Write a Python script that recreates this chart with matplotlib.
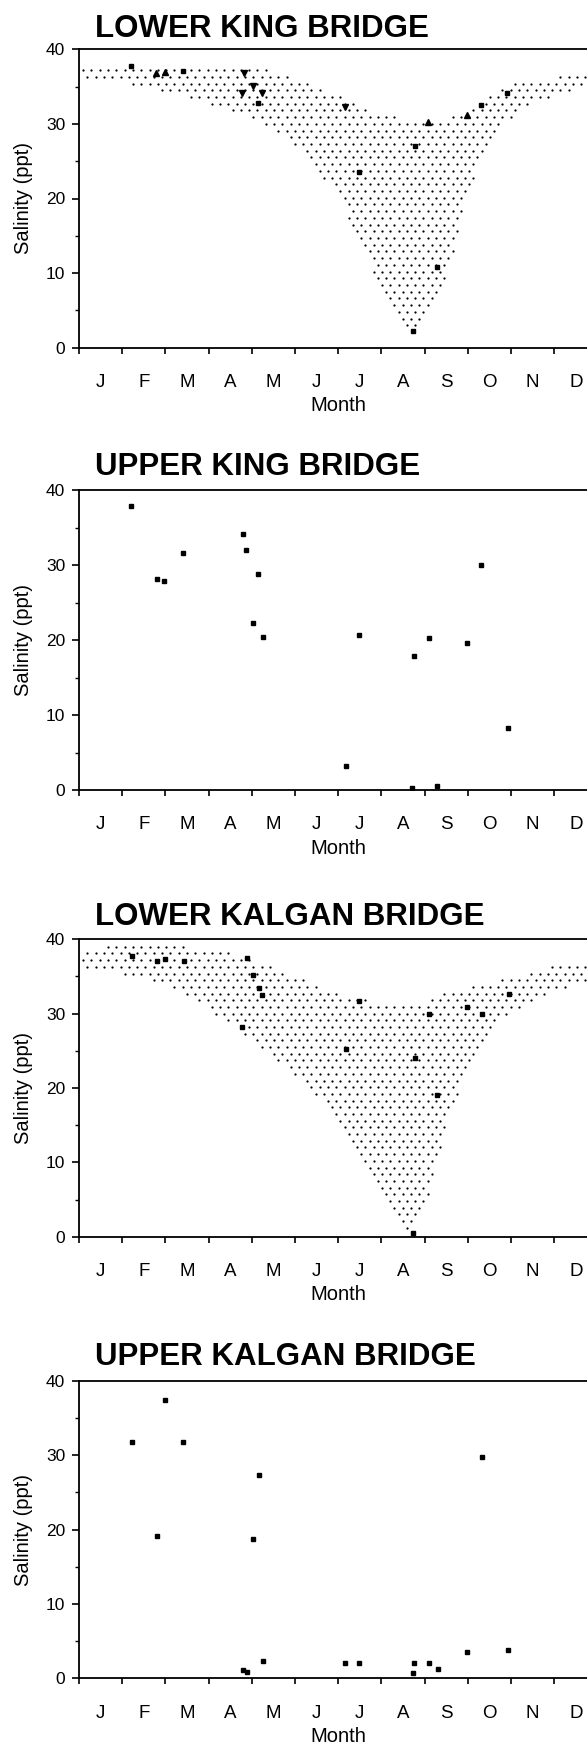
import numpy as np
import matplotlib.pyplot as plt
from matplotlib.path import Path
from matplotlib.ticker import FixedLocator, MultipleLocator, NullFormatter

plt.rcParams['font.family'] = ['Liberation Sans', 'DejaVu Sans']

W, H = 587, 1748
month_labels = ["J", "F", "M", "A", "M", "J", "J", "A", "S", "O", "N", "D"]

# Lower King Bridge: range band and observations (month, salinity ppt)
lk_band_m = [0, 0.5, 1.0, 1.5, 2.0, 2.5, 3.0, 3.5, 4.0, 4.5, 5.0, 5.5, 6.0, 6.5,
             7.0, 7.5, 7.75, 8.0, 8.5, 9.0, 9.5, 10.0, 10.5, 11.0, 11.5, 12]
lk_band_hi = [37.7, 37.8, 37.8, 37.7, 37.7, 37.6, 37.6, 37.5, 37.4, 37.1, 36.2, 35.1, 33.9, 32.5,
              31.4, 30.6, 30.5, 30.5, 30.8, 31.9, 33.6, 35.5, 36.1, 36.2, 36.6, 37.0]
lk_band_lo = [35.7, 35.7, 35.6, 34.8, 34.3, 33.6, 32.8, 31.9, 30.8, 29.2, 27.0, 23.8, 20.5, 14.0,
              8.0, 3.0, 2.0, 3.2, 9.2, 20.8, 27.5, 30.9, 32.8, 33.9, 34.6, 35.2]
lk_sq_m = [1.20, 2.41, 4.15, 6.49, 7.78, 8.29, 7.74, 9.30, 9.91]
lk_sq_s = [37.7, 37.1, 32.8, 23.5, 27.0, 10.8, 2.3, 32.5, 34.2]
lk_up_m = [1.78, 1.99, 8.07, 8.97]
lk_up_s = [36.8, 36.9, 30.2, 31.2]
lk_dn_m = [3.83, 4.03, 3.78, 4.23, 6.16]
lk_dn_s = [36.8, 35.1, 34.2, 34.2, 32.3]

# Upper King Bridge
uk_m = [1.21, 1.80, 1.97, 2.41, 3.79, 3.86, 4.14, 4.03, 4.25, 6.17, 6.47,
        7.76, 7.71, 8.10, 8.29, 8.97, 9.30, 9.92]
uk_s = [37.9, 28.1, 27.9, 31.6, 34.1, 32.0, 28.8, 22.3, 20.4, 3.2, 20.7,
        17.9, 0.3, 20.3, 0.6, 19.6, 30.0, 8.3]

# Lower Kalgan Bridge
lkal_band_m = [0, 0.5, 1.0, 1.5, 2.0, 2.5, 3.0, 3.5, 4.0, 4.5, 5.0, 5.5, 6.0, 6.5,
               7.0, 7.5, 7.7, 8.0, 8.5, 9.0, 9.5, 10.0, 10.5, 11.0, 11.5, 12]
lkal_band_hi = [38.3, 39.0, 39.1, 39.1, 39.1, 39.0, 38.8, 38.3, 37.2, 36.3, 35.1, 33.9, 32.9, 32.2,
                31.2, 31.0, 31.2, 31.8, 32.8, 33.4, 34.2, 35.0, 35.6, 36.5, 36.8, 37.0]
lkal_band_lo = [36.3, 35.9, 35.3, 34.6, 33.8, 32.4, 30.6, 28.6, 26.3, 24.2, 21.7, 19.0, 15.7, 11.0,
                6.6, 1.5, 0.4, 3.5, 15.3, 23.3, 28.1, 30.0, 31.5, 33.0, 33.9, 34.3]
lkal_m = [1.22, 1.81, 1.98, 2.42, 3.88, 4.03, 4.17, 4.24, 3.78, 6.48, 6.17,
          8.10, 7.78, 8.29, 8.99, 9.32, 9.95, 7.72]
lkal_s = [37.8, 37.1, 37.3, 37.1, 37.5, 35.2, 33.4, 32.5, 28.2, 31.7, 25.3,
          30.0, 24.0, 19.0, 30.9, 30.0, 32.6, 0.5]

# Upper Kalgan Bridge
ukal_m = [1.22, 1.80, 1.98, 2.41, 3.80, 3.88, 4.03, 4.16, 4.25, 6.16, 6.48,
          7.74, 7.76, 8.10, 8.30, 8.99, 9.32, 9.92]
ukal_s = [31.8, 19.2, 37.4, 31.8, 1.1, 0.9, 18.8, 27.3, 2.3, 2.0, 2.0,
          0.7, 2.1, 2.1, 1.2, 3.5, 29.8, 3.8]

# panel boxes in pixels: (axes top, axes bottom, title baseline)
boxes = [(49.3, 347.7, 36.7), (490, 790, 475), (939.3, 1236.7, 925), (1381, 1678.3, 1365)]
titles = ["LOWER KING BRIDGE", "UPPER KING BRIDGE", "LOWER KALGAN BRIDGE", "UPPER KALGAN BRIDGE"]
ax_left, ax_width = 79, 12 * 43.2


def stipple(ax, m, lo, hi):
    # staggered dot screen clipped to the band between lo and hi
    dx, dy = 8.3 / 43.2, 0.9
    verts = list(zip(m, hi)) + list(zip(m[::-1], lo[::-1]))
    band = Path(verts)
    xs, ys = [], []
    for i, y in enumerate(np.arange(0.3, 40, dy)):
        off = dx / 2 if i % 2 else 0
        for x in np.arange(off, 12, dx):
            xs.append(x)
            ys.append(y)
    pts = np.column_stack([xs, ys])
    keep = band.contains_points(pts)
    ax.scatter(pts[keep, 0], pts[keep, 1], s=2.6, color='black', linewidths=0)


fig = plt.figure(figsize=(W / 100, H / 100), dpi=100)
axes = []
for (top, bot, tb), title in zip(boxes, titles):
    ax = fig.add_axes([ax_left / W, 1 - bot / H, ax_width / W, (bot - top) / H])
    fig.text(95 / W, 1 - tb / H, title, fontsize=22.5, fontweight='bold', ha='left', va='baseline')
    ax.set_xlim(0, 12)
    ax.set_ylim(0, 40)
    ax.spines['right'].set_visible(False)
    for s in ['left', 'bottom', 'top']:
        ax.spines[s].set_linewidth(1.3)
    ax.xaxis.set_major_locator(MultipleLocator(1))
    ax.xaxis.set_major_formatter(NullFormatter())
    ax.xaxis.set_minor_locator(FixedLocator(np.arange(12) + 0.5))
    ax.set_xticklabels(month_labels, minor=True)
    ax.tick_params(axis='x', which='major', direction='out', length=4.5, width=1.2)
    ax.tick_params(axis='x', which='minor', length=0, pad=19, labelsize=13.5)
    ax.yaxis.set_major_locator(MultipleLocator(10))
    ax.yaxis.set_minor_locator(MultipleLocator(5))
    ax.tick_params(axis='y', which='major', direction='out', length=5, width=1.2, pad=5, labelsize=12.5)
    ax.tick_params(axis='y', which='minor', direction='out', length=3, width=1.0)
    ax.set_ylabel("Salinity (ppt)", fontsize=14.5)
    ax.yaxis.set_label_coords(-0.088, 0.5)
    ax.set_xlabel("Month", fontsize=14.5)
    ax.xaxis.set_label_coords(0.5, -0.163)
    axes.append(ax)

ax1, ax2, ax3, ax4 = axes
stipple(ax1, lk_band_m, lk_band_lo, lk_band_hi)
ax1.plot(lk_sq_m, lk_sq_s, 's', color='black', ms=3, ls='none')
ax1.plot(lk_up_m, lk_up_s, '^', color='black', ms=4, ls='none')
ax1.plot(lk_dn_m, lk_dn_s, 'v', color='black', ms=4, ls='none')

ax2.plot(uk_m, uk_s, 's', color='black', ms=3, ls='none')

stipple(ax3, lkal_band_m, lkal_band_lo, lkal_band_hi)
ax3.plot(lkal_m, lkal_s, 's', color='black', ms=3.3, ls='none')

ax4.plot(ukal_m, ukal_s, 's', color='black', ms=3, ls='none')

fig.savefig("out.png", dpi=100)
